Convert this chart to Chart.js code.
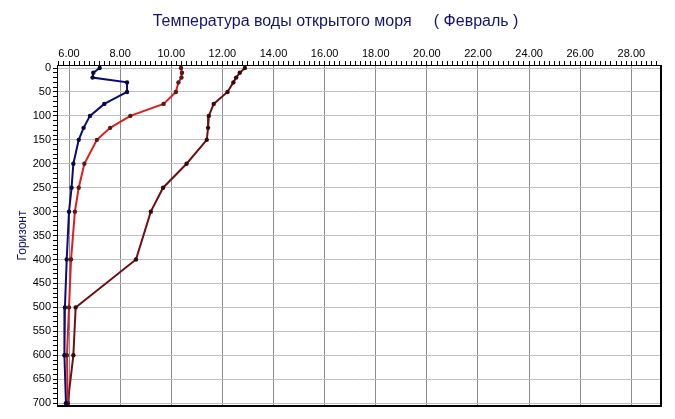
<!DOCTYPE html>
<html>
<head>
<meta charset="utf-8">
<script src="https://cdn.jsdelivr.net/npm/chart.js@4/dist/chart.umd.min.js"></script>
<style>
html,body{margin:0;padding:0;background:#fff;}
canvas{display:block;}
</style>
</head>
<body>
<canvas id="c" width="675" height="419"></canvas>
<script>
const chartTitle = 'Температура воды открытого моря     ( Февраль )';
const yTitle = 'Горизонт';
const depths = [0, 10, 20, 30, 50, 75, 100, 125, 150, 200, 250, 300, 400, 500, 600, 700];
const seriesBlue   = [7.20, 6.95, 6.92, 8.27, 8.27, 7.38, 6.82, 6.57, 6.38, 6.17, 6.10, 6.00, 5.91, 5.84, 5.82, 5.88];
const seriesRed    = [10.38, 10.42, 10.40, 10.28, 10.18, 9.70, 8.40, 7.61, 7.09, 6.60, 6.38, 6.23, 6.08, 6.00, 5.92, 5.95];
const seriesMaroon = [12.88, 12.68, 12.54, 12.43, 12.20, 11.66, 11.47, 11.44, 11.39, 10.60, 9.68, 9.20, 8.62, 6.26, 6.17, 5.95];
const xMajorStep = 2;
const yMajorStep = 50;
const xMinorStep = 0.2;
const yMinorStep = 10;
const xMin = 5.53, xMax = 29.16, yMin = -6.3, yMax = 706;

const tickFont = {family: "'Liberation Sans Narrow', 'Liberation Sans', Arial, sans-serif", size: 11};

function pts(vals) { return vals.map((v, i) => ({x: v, y: depths[i]})); }
function minorTicks(min, max, step) {
  const out = [];
  const start = Math.ceil(min / step);
  const end = Math.floor(max / step);
  for (let k = start; k <= end; k++) out.push({value: Math.round(k * step * 1000) / 1000});
  return out;
}
function isMajor(v, step) { return Math.abs(v / step - Math.round(v / step)) < 1e-6; }

const frame = {
  id: 'frame',
  afterDraw(chart) {
    const {ctx, chartArea: a} = chart;
    ctx.save();
    ctx.strokeStyle = '#000';
    ctx.lineWidth = 2;
    ctx.beginPath();
    ctx.moveTo(Math.round(a.right), Math.round(a.top));
    ctx.lineTo(Math.round(a.right), Math.round(a.bottom));
    ctx.lineTo(Math.round(a.left), Math.round(a.bottom));
    ctx.stroke();
    ctx.restore();
  }
};

const mk = (label, vals, color, pcolor) => ({
  label, data: pts(vals), borderColor: color, backgroundColor: color,
  borderWidth: 2, pointRadius: 2.2, pointBackgroundColor: pcolor, pointBorderColor: pcolor,
  pointBorderWidth: 0, showLine: true, tension: 0, fill: false
});

new Chart(document.getElementById('c'), {
  type: 'scatter',
  data: {
    datasets: [
      mk('1', seriesBlue, '#0c0c78', '#0a0a3a'),
      mk('2', seriesRed, '#e01c1c', '#5a1818'),
      mk('3', seriesMaroon, '#6e1010', '#3a0808')
    ]
  },
  options: {
    responsive: false,
    devicePixelRatio: 1,
    animation: false,
    layout: {padding: {left: 10, right: 14, top: 0, bottom: 13}},
    plugins: {
      legend: {display: false},
      tooltip: {enabled: false},
      title: {
        display: true, text: chartTitle, color: '#14146e',
        font: {family: "'Liberation Sans', Arial, sans-serif", size: 16, weight: 'normal'},
        padding: {top: 12, bottom: 0}
      }
    },
    scales: {
      x: {
        type: 'linear', position: 'top', min: xMin, max: xMax,
        afterFit: s => { s.height = 33.8; },
        afterBuildTicks: s => { s.ticks = minorTicks(xMin, xMax, xMinorStep); },
        ticks: {
          callback: v => isMajor(v, xMajorStep) ? Number(v).toFixed(2) : '',
          font: tickFont, color: '#000', padding: 0, maxRotation: 0, minRotation: 0, autoSkip: false
        },
        grid: {
          color: c => isMajor(c.tick.value, xMajorStep) ? '#8c8c8c' : 'rgba(0,0,0,0)',
          tickColor: '#000', tickLength: 4, lineWidth: 1
        },
        border: {display: true, color: '#000', width: 1}
      },
      y: {
        type: 'linear', position: 'left', reverse: true, min: yMin, max: yMax,
        afterFit: s => { s.width = 47; },
        afterBuildTicks: s => { s.ticks = minorTicks(yMin, yMax, yMinorStep); },
        ticks: {
          callback: v => isMajor(v, yMajorStep) ? String(v) : '',
          font: tickFont, color: '#000', padding: 2, autoSkip: false
        },
        grid: {
          color: c => isMajor(c.tick.value, yMajorStep) ? '#c0c0c0' : 'rgba(0,0,0,0)',
          tickColor: '#000', tickLength: 4, lineWidth: 1
        },
        border: {display: true, color: '#000', width: 1},
        title: {
          display: true, text: yTitle, color: '#14146e',
          font: {family: "'Liberation Sans', Arial, sans-serif", size: 12},
          padding: {top: 5, bottom: 0}
        }
      }
    }
  },
  plugins: [frame]
});
</script>
</body>
</html>
